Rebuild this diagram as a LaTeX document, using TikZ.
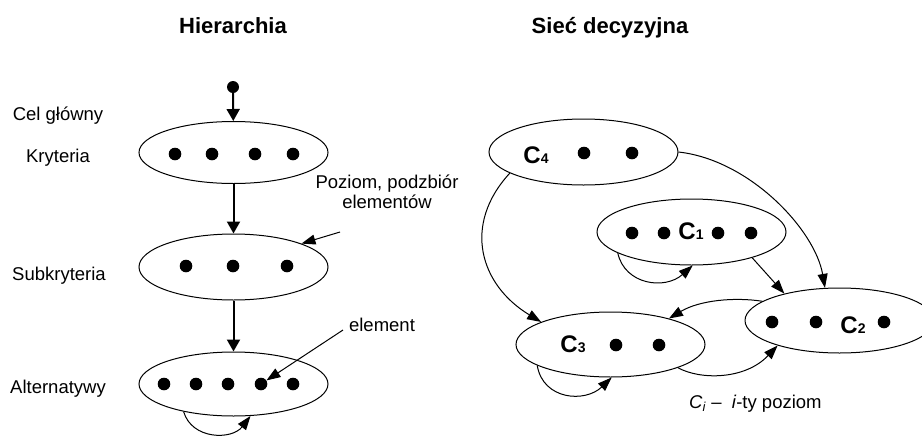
\documentclass[tikz,border=0pt]{standalone}
\usepackage{fontspec}
\setmainfont{Liberation Sans}
\usetikzlibrary{shapes.geometric,arrows.meta}
\newcommand\clab[1]{{\fontsize{24}{24}\selectfont\bfseries C}{\fontsize{14}{14}\selectfont\bfseries #1}}
\begin{document}
\begin{tikzpicture}[x=1pt,y=-1pt,
  lvl/.style={ellipse,draw,line width=1pt,minimum width=189pt,minimum height=65pt,inner sep=0pt},
  dotn/.style={circle,fill,inner sep=0pt,minimum size=12.6pt},
  lab/.style={anchor=base,font=\fontsize{18.5}{20}\selectfont,inner sep=0pt,align=center},
  ttl/.style={anchor=base,font=\fontsize{22}{26}\selectfont\bfseries,inner sep=0pt},
  cl/.style={anchor=base,inner sep=0pt},
  bigarr/.style={line width=2pt,-{Triangle[length=12pt,width=13pt]}},
  arr/.style={line width=1pt,-{Triangle[length=14pt,width=10pt]}},
]
\useasboundingbox (0,0) rectangle (922,437);
\clip (0,0) rectangle (922,437);

% titles
\node[ttl] (t1) at (233,33) {Hierarchia};
\node[ttl] (t2) at (610,33) {Sieć decyzyjna};

% left labels
\node[lab] (l1) at (58,120) {Cel główny};
\node[lab] (l2) at (58,162) {Kryteria};
\node[lab] (l3) at (59,280) {Subkryteria};
\node[lab] (l4) at (58,393) {Alternatywy};

% hierarchy
\node[dotn,minimum size=12pt] (g) at (233,87) {};
\node[lvl,minimum height=62pt] (K) at (233.5,152.5) {};
\node[lvl,minimum height=66pt] (S) at (233.5,267) {};
\node[lvl,minimum height=64pt] (A) at (233.5,384) {};

\foreach \x [count=\i] in {175,212,255,293} \node[dotn] (k\i) at (\x,154) {};
\foreach \x [count=\i] in {186,233,287} \node[dotn] (s\i) at (\x,266) {};
\foreach \x [count=\i] in {164,196,228,261,293} \node[dotn] (a\i) at (\x,384) {};

\draw[bigarr] (g) -- (K);
\draw[bigarr] (K) -- (S);
\draw[bigarr] (S) -- (A);
\draw[arr] (A.209.5) .. controls (192,440) and (232,440) .. (A.298);

% annotations
\node[lab] (pz) at (387,208) {Poziom, podzbiór\\elementów};
\coordinate (pzs) at (340,232);
\draw[arr] (pzs) -- (S.19);
\node[lab] (el) at (382,331) {element};
\coordinate (els) at (343,330);
\draw[arr] (els) -- (a4);

% network
\node[lvl,minimum height=66pt] (C4) at (583.5,152) {};
\node[lvl,minimum height=66pt] (C1) at (691.5,232) {};
\node[lvl,minimum height=65pt] (C2) at (839.5,320.5) {};
\node[lvl,minimum height=65pt] (C3) at (610.5,344.5) {};

\node[cl] (n4) at (536,163) {\clab{4}};
\node[dotn] (c4a) at (584,153) {};
\node[dotn] (c4b) at (632,153) {};

\node[dotn] (c1a) at (632,233) {};
\node[dotn] (c1b) at (664,233) {};
\node[cl] (n1) at (691,239) {\clab{1}};
\node[dotn] (c1c) at (718,233) {};
\node[dotn] (c1d) at (751,233) {};

\node[dotn] (c2a) at (772,322) {};
\node[dotn] (c2b) at (816,322) {};
\node[cl] (n2) at (853,333) {\clab{2}};
\node[dotn] (c2c) at (884,322) {};

\node[cl] (n3) at (573,352) {\clab{3}};
\node[dotn] (c3a) at (616,345) {};
\node[dotn] (c3b) at (659,345) {};

\draw[arr] (C4.196) .. controls (462,225) and (480,285) .. (C3.162);
\draw[arr] (C4.east) .. controls (750,160) and (815,230) .. (C2.114);
\draw[arr] (C1.-23) -- (C2.154);
\draw[arr] (C1.196) .. controls (625,285) and (665,290) .. (C1.272);
\draw[arr] (C2.166) .. controls (735,297) and (700,300) .. (C3.24);
\draw[arr] (C3.-19.5) .. controls (700,380) and (745,380) .. (C2.202);
\draw[arr] (C3.196.5) .. controls (543,400) and (585,403) .. (C3.272);

\node[lab,anchor=base west] (ci) at (689,408) {\textit{C}\textsubscript{\textit{i}} –\hspace{10pt}\textit{i}-ty poziom};
\end{tikzpicture}
\end{document}
